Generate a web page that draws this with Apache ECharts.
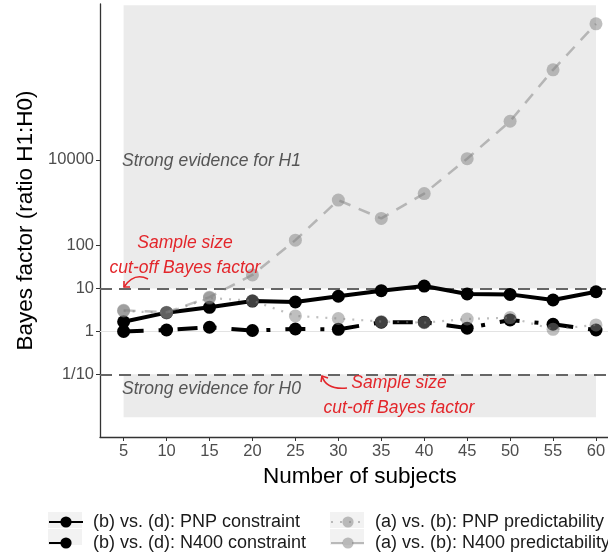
<!DOCTYPE html>
<html>
<head>
<meta charset="utf-8">
<script src="https://cdn.jsdelivr.net/npm/echarts@6/dist/echarts.min.js"></script>
<style>
  html, body { margin: 0; padding: 0; background: #fff; }
  #chart { width: 608px; height: 552px; }
</style>
</head>
<body>
<div id="chart"></div>
<script>
// sample sizes on the x axis
const subjects = [5, 10, 15, 20, 25, 30, 35, 40, 45, 50, 55, 60];
// Bayes factors
const pnpConstraint = [1.68, 2.74, 3.65, 5.1, 4.85, 6.6, 8.9, 11.4, 7.45, 7.3, 5.4, 8.4];
const n400Constraint = [1.0, 1.08, 1.25, 1.05, 1.14, 1.12, 1.64, 1.64, 1.19, 1.85, 1.47, 1.08];
const pnpPredict = [3.0, 2.7, 6.0, 5.2, 2.3, 2.0, 1.7, 1.6, 1.95, 2.1, 1.12, 1.42];
const n400Predict = [3.1, 2.8, 6.3, 20.7, 134, 1150, 430, 1630, 10600, 79000, 1250000, 14700000];
const yTicks = [0.1, 1, 10, 100, 10000];
const xTicks = [5, 10, 15, 20, 25, 30, 35, 40, 45, 50, 55, 60];

const FONT = 'Liberation Sans, Arial, sans-serif';
const RED = '#e3262b';
const GRAY_PT = 'rgba(128,128,128,0.5)';

const pairs = ys => subjects.map((x, i) => [x, ys[i]]);

const chart = echarts.init(document.getElementById('chart'), null, { renderer: 'canvas' });

const arrowHead = (pts) => ({
  type: 'polyline', silent: true, z: 10,
  shape: { points: pts },
  style: { stroke: RED, lineWidth: 1.6, fill: null }
});
const note = (x, y, text, color, align) => ({
  type: 'text', x: x, y: y, z: 10, silent: true,
  style: { text: text, fontSize: 17.5, fontStyle: 'italic', fill: color, align: align, verticalAlign: 'middle', fontFamily: FONT }
});
const keyBg = (left, top) => ({
  type: 'rect', left: left, top: top, z: 0, silent: true,
  shape: { width: 34, height: 16 }, style: { fill: '#f2f2f2' }
});
const legendBox = (names, left) => ({
  data: names, left: left, top: 513, orient: 'vertical', padding: 0,
  itemWidth: 34, itemHeight: 14, itemGap: 3,
  textStyle: { fontSize: 18, color: '#1a1a1a', padding: [0, 0, 0, 5], fontFamily: FONT }
});

chart.setOption({
  animation: false,
  textStyle: { fontFamily: FONT },
  grid: { left: 100, width: 519.6, top: 4, bottom: 115, containLabel: false, outerBoundsMode: 'none' },
  xAxis: {
    type: 'value', min: 2.25, max: 62.75,
    name: 'Number of subjects', nameLocation: 'middle', nameGap: 19,
    nameTextStyle: { fontSize: 22.5, color: '#000', fontFamily: FONT },
    axisLine: { show: true, lineStyle: { color: '#333', width: 1.3 } },
    axisTick: { show: true, length: 4, customValues: xTicks, lineStyle: { color: '#333' } },
    axisLabel: { customValues: xTicks, fontSize: 16.5, color: '#4d4d4d', margin: 6, fontFamily: FONT },
    splitLine: { show: false }
  },
  yAxis: {
    type: 'log', logBase: 10, min: Math.pow(10, -2.46), max: Math.pow(10, 7.63),
    name: 'Bayes factor (ratio H1:H0)', nameLocation: 'middle', nameGap: 54,
    nameTextStyle: { fontSize: 22.5, color: '#000', fontFamily: FONT },
    axisLine: { show: true, lineStyle: { color: '#333', width: 1.3 } },
    axisTick: { show: true, length: 4, customValues: yTicks, lineStyle: { color: '#333' } },
    axisLabel: {
      customValues: yTicks, fontSize: 16.5, color: '#4d4d4d', margin: 6, fontFamily: FONT,
      formatter: v => {
        const p = Math.round(Math.log10(v));
        return p < 0 ? '1/' + Math.pow(10, -p) : String(Math.pow(10, p));
      }
    },
    splitLine: { show: false }
  },
  legend: [
    legendBox(['(b) vs. (d): PNP constraint', '(b) vs. (d): N400 constraint'], 48),
    legendBox(['(a) vs. (b): PNP predictability', '(a) vs. (b): N400 predictability'], 330)
  ],
  graphic: [
    keyBg(48, 512), keyBg(48, 529), keyBg(330, 512), keyBg(330, 529),
    note(122, 161, 'Strong evidence for H1', '#555', 'left'),
    note(122, 389, 'Strong evidence for H0', '#555', 'left'),
    note(185, 243, 'Sample size', RED, 'center'),
    note(185, 268, 'cut-off Bayes factor', RED, 'center'),
    note(399, 383, 'Sample size', RED, 'center'),
    note(399, 408, 'cut-off Bayes factor', RED, 'center'),
    { type: 'bezierCurve', z: 10, silent: true,
      shape: { x1: 148, y1: 279, cpx1: 134, cpy1: 272, x2: 124, y2: 287 },
      style: { stroke: RED, lineWidth: 1.6, fill: null } },
    arrowHead([[124, 281], [124, 287], [130, 287]]),
    { type: 'bezierCurve', z: 10, silent: true,
      shape: { x1: 347, y1: 388, cpx1: 326, cpy1: 390, x2: 322, y2: 376 },
      style: { stroke: RED, lineWidth: 1.6, fill: null } },
    arrowHead([[321, 382], [322, 376], [328, 378]])
  ],
  series: [
    {
      name: '(b) vs. (d): PNP constraint', type: 'line', data: pairs(pnpConstraint),
      symbol: 'circle', symbolSize: 13, z: 3,
      lineStyle: { color: '#000', width: 4 }, itemStyle: { color: '#000' },
      markArea: {
        silent: true, z: 1,
        itemStyle: { color: '#ebebeb' },
        data: [
          [{ xAxis: 5, yAxis: 10 }, { xAxis: 60, yAxis: 4e7 }],
          [{ xAxis: 5, yAxis: 0.01 }, { xAxis: 60, yAxis: 0.1 }]
        ]
      },
      markLine: {
        silent: true, symbol: 'none', z: 2, label: { show: false },
        data: [
          { yAxis: 1, lineStyle: { color: '#e3e3e3', width: 1, type: 'solid' } },
          { yAxis: 10, lineStyle: { color: '#666', width: 2, type: [12, 7] } },
          { yAxis: 0.1, lineStyle: { color: '#666', width: 2, type: [12, 7] } }
        ]
      }
    },
    {
      name: '(b) vs. (d): N400 constraint', type: 'line', data: pairs(n400Constraint),
      symbol: 'circle', symbolSize: 13, z: 3,
      lineStyle: { color: '#000', width: 4, type: [20, 15, 4, 15] }, itemStyle: { color: '#000' }
    },
    {
      name: '(a) vs. (b): PNP predictability', type: 'line', data: pairs(pnpPredict),
      symbol: 'circle', symbolSize: 13, z: 4,
      lineStyle: { color: GRAY_PT, width: 2.2, type: [2, 7] }, itemStyle: { color: GRAY_PT }
    },
    {
      name: '(a) vs. (b): N400 predictability', type: 'line', data: pairs(n400Predict),
      symbol: 'circle', symbolSize: 13, z: 4,
      lineStyle: { color: GRAY_PT, width: 2.5, type: [12, 9] }, itemStyle: { color: GRAY_PT }
    }
  ]
});
</script>
</body>
</html>
